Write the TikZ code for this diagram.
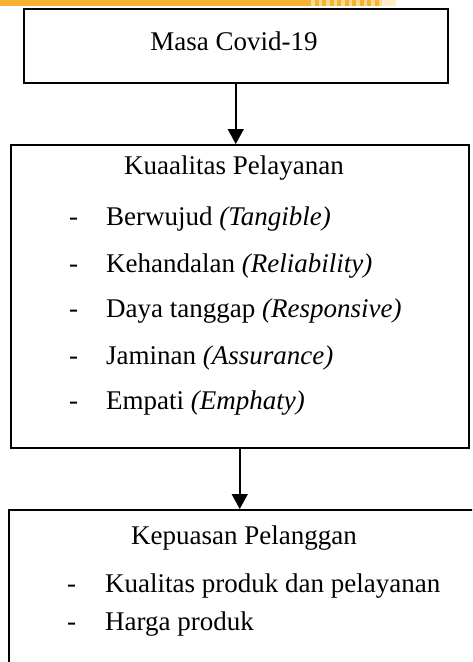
\documentclass[tikz,border=0pt]{standalone}
\usepackage{fontspec}
\setmainfont{Liberation Serif}
\usetikzlibrary{arrows.meta,positioning}
\definecolor{headerorange}{HTML}{F8B232}
\definecolor{headerlight}{HTML}{FCDC94}

\begin{document}
\begin{tikzpicture}[
      x=1pt, y=-1pt,
      box_frame/.style={
         draw=black,
         line width=1.5pt,
         inner sep=0pt,
         anchor=north west},
      item_text/.style={
         inner sep=0pt,
         anchor=mid west,
         font=\fontsize{27}{32}\selectfont},
      title_text/.style={
         inner sep=0pt,
         anchor=mid,
         font=\fontsize{27}{32}\selectfont},
      arrow_down/.style={
        -{Triangle[width=16pt,length=15pt]},
        line width=1.5pt,
        }
]
      \useasboundingbox (0,0) rectangle (472,662);
      \clip (0,0) rectangle (472,662);

      %header bar
      \fill[headerorange] (0,0) rectangle (307,6);
      \foreach \k in {0,...,9}
        \fill[headerorange] (307+7.5*\k,0) rectangle (311+7.5*\k,6);
      \foreach \k in {0,...,9}
        \fill[headerlight] (311+7.5*\k,0) rectangle (314.5+7.5*\k,6);
      \fill[headerlight!50] (382,0) rectangle (396,6);

      %boxes
      \node[box_frame,minimum width=424pt,minimum height=74pt] (covid) at (23,8) {};
      \node[box_frame,minimum width=458pt,minimum height=303pt] (kualitas) at (10,144) {};
      \node[box_frame,minimum width=480pt,minimum height=180pt] (kepuasan) at (8,509) {};

      \node[title_text] (covid_t) at (234,48) {Masa Covid-19};
      \node[title_text] (kualitas_t) at (234,172) {Kuaalitas Pelayanan};
      \node[title_text] (kepuasan_t) at (244,542) {Kepuasan Pelanggan};

      \foreach \n/\y/\txt in {% name/height/text
        q1/223/{Berwujud \textit{(Tangible)}},
        q2/270/{Kehandalan \textit{(Reliability)}},
        q3/315/{Daya tanggap \textit{(Responsive)}},
        q4/362/{Jaminan \textit{(Assurance)}},
        q5/407/{Empati \textit{(Emphaty)}}}
      {
        \node[item_text] (\n_d) at (69,\y) {-};
        \node[item_text] (\n) at (106,\y) {\txt};
      }

      \foreach \n/\y/\txt in {%
        p1/590/{Kualitas produk dan pelayanan},
        p2/628/{Harga produk}}
      {
        \node[item_text] (\n_d) at (67,\y) {-};
        \node[item_text] (\n) at (105,\y) {\txt};
      }

      \draw[arrow_down] (covid.south) -- (covid.south |- kualitas.north);
      \draw[arrow_down] (kualitas.south) -- (kualitas.south |- kepuasan.north);

\end{tikzpicture}
\end{document}
